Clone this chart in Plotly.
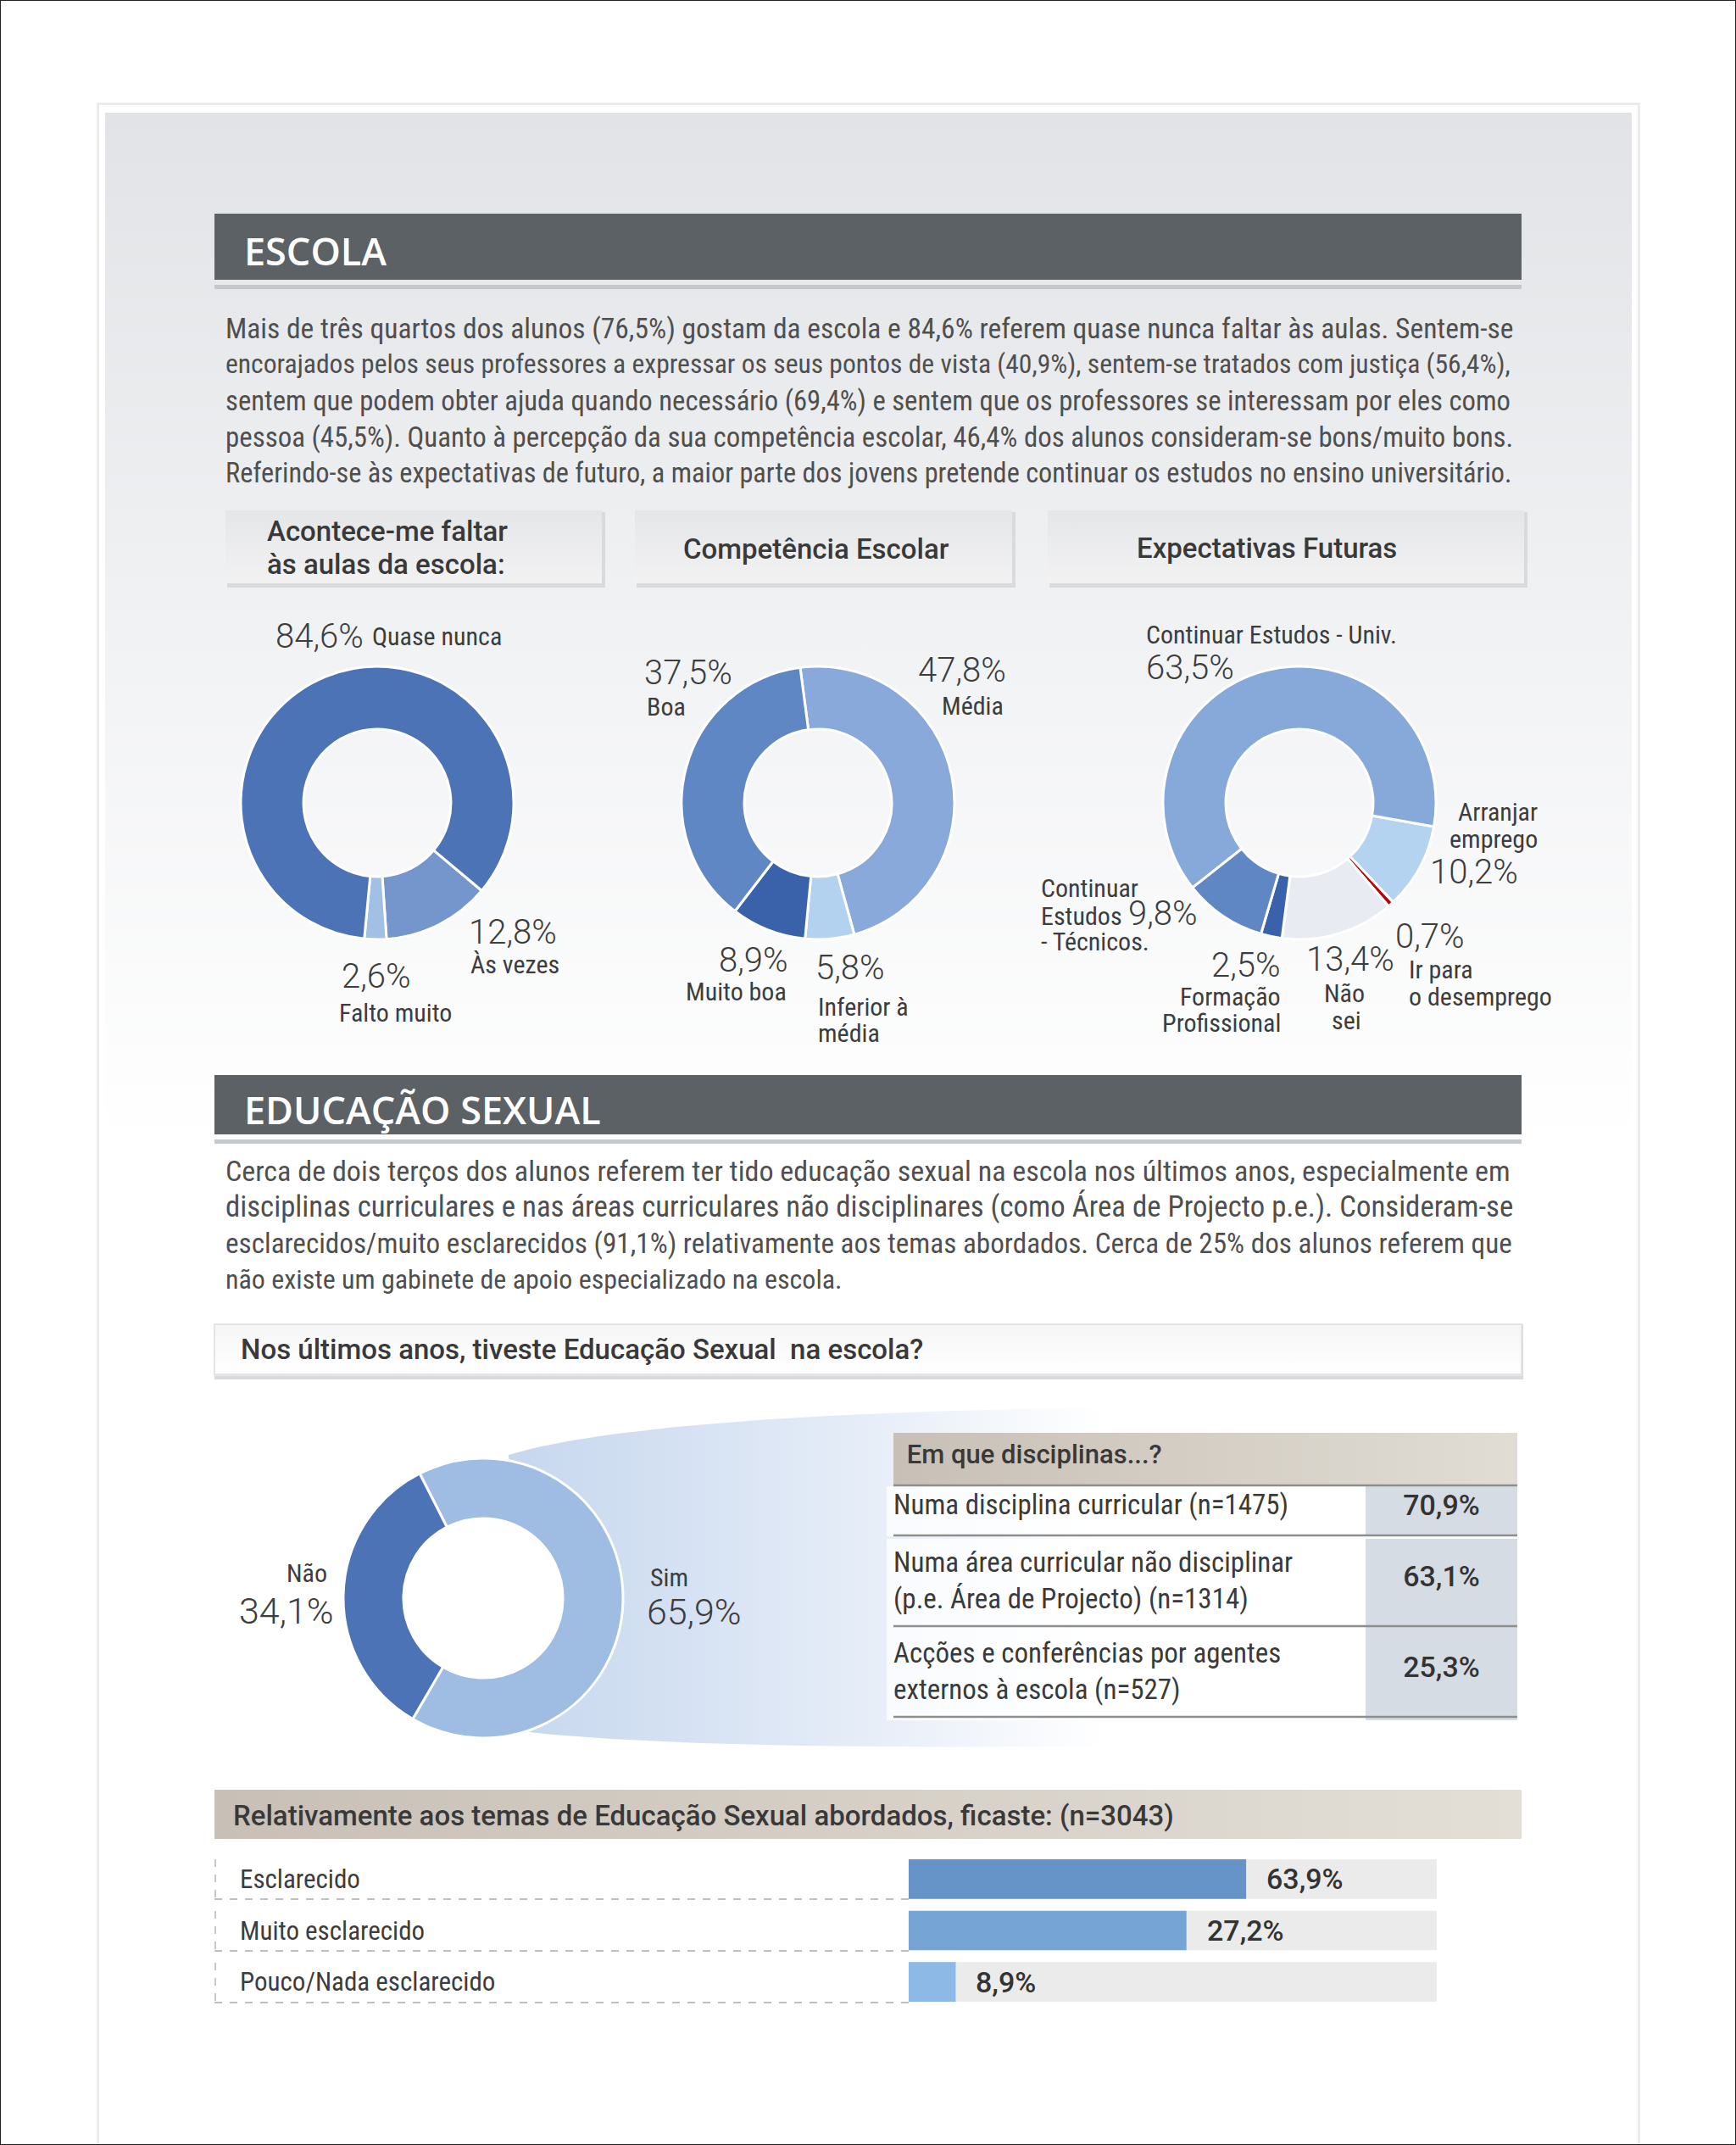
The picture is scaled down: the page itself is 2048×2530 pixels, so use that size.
import numpy as np
import plotly.graph_objects as go

W, H = 2048, 2530

# ---------------- DATA ----------------
faltar_labels = ["Às vezes", "Falto muito", "Quase nunca"]
faltar_values = [12.8, 2.6, 84.6]

comp_labels = ["Média", "Inferior à média", "Muito boa", "Boa"]
comp_values = [47.8, 5.8, 8.9, 37.5]

expect_labels = ["Arranjar emprego", "Ir para o desemprego", "Não sei",
                 "Formação Profissional", "Continuar Estudos - Técnicos.",
                 "Continuar Estudos - Univ."]
expect_values = [10.2, 0.7, 13.4, 2.5, 9.8, 63.5]

edsex_labels = ["Sim", "Não"]
edsex_values = [65.9, 34.1]

disc_labels = ["Numa disciplina curricular (n=1475)",
               "Numa área curricular não disciplinar<br>(p.e. Área de Projecto) (n=1314)",
               "Acções e conferências por agentes<br>externos à escola (n=527)"]
disc_values = [70.9, 63.1, 25.3]

temas_labels = ["Esclarecido", "Muito esclarecido", "Pouco/Nada esclarecido"]
temas_values = [63.9, 27.2, 8.9]          # printed values
temas_bar_length = [63.9, 52.6, 8.9]      # bar lengths as drawn in the reference

escola_text = [
    "Mais de três quartos dos alunos (76,5%) gostam da escola e 84,6% referem quase nunca faltar às aulas. Sentem-se",
    "encorajados pelos seus professores a expressar os seus pontos de vista (40,9%), sentem-se tratados com justiça (56,4%),",
    "sentem que podem obter ajuda quando necessário (69,4%) e sentem que os professores se interessam por eles como",
    "pessoa (45,5%). Quanto à percepção da sua competência escolar, 46,4% dos alunos consideram-se bons/muito bons.",
    "Referindo-se às expectativas de futuro, a maior parte dos jovens pretende continuar os estudos no ensino universitário.",
]
edsex_text = [
    "Cerca de dois terços dos alunos referem ter tido educação sexual na escola nos últimos anos, especialmente em",
    "disciplinas curriculares e nas áreas curriculares não disciplinares (como Área de Projecto p.e.). Consideram-se",
    "esclarecidos/muito esclarecidos (91,1%) relativamente aos temas abordados. Cerca de 25% dos alunos referem que",
    "não existe um gabinete de apoio especializado na escola.",
]
# per-line sizes that imitate the justified block of the original
escola_sizes = [33.5, 31.6, 32.7, 32.9, 32.3]
edsex_sizes = [34.1, 34.8, 33.2, 32.0]


def fmt(v):
    return f"{v:.1f}".replace(".", ",") + "%"


# ---------------- FONTS ----------------
NARROW = "Liberation Sans Narrow, Arial Narrow, Roboto Condensed, DejaVu Sans Condensed, sans-serif"
DARK = "#3d3d3d"
F_NUM = dict(family="Roboto", weight=300, size=40, color=DARK)
F_NUM_BIG = dict(family="Roboto", weight=300, size=43, color=DARK)
F_LBL = dict(family=NARROW, size=30, color=DARK)
F_PARA = dict(family=NARROW, size=33, color="#4f4f4f")
F_HEAD = dict(family="Roboto", weight=500, size=33, color="#393939")
F_VAL = dict(family="Roboto", weight=500, size=34, color="#333333")

fig = go.Figure()
shapes = []
annotations = []


def px(x):
    return x / W


def py(y):
    return 1 - y / H


def ann(x, y, text, font, xanchor="left", yanchor="middle", **kw):
    d = dict(x=x, y=y, xref="x", yref="y", text=text, showarrow=False,
             font=font, xanchor=xanchor, yanchor=yanchor)
    d.update(kw)
    annotations.append(d)


def grad_poly(xs, ys, stops, orient, start, stop):
    fig.add_trace(go.Scatter(
        x=xs, y=ys, mode="lines", line=dict(width=0), fill="toself",
        fillgradient=dict(type=orient, colorscale=stops, start=start, stop=stop),
        hoverinfo="skip", showlegend=False, xaxis="x", yaxis="y"))


def grad_rect(x0, y0, x1, y1, c0, c1, orient="vertical"):
    xs = [x0, x1, x1, x0, x0]
    ys = [y0, y0, y1, y1, y0]
    if orient == "vertical":
        grad_poly(xs, ys, [[0, c0], [1, c1]], orient, y0, y1)
    else:
        grad_poly(xs, ys, [[0, c0], [1, c1]], orient, x0, x1)


def solid(x0, y0, x1, y1, color):
    fig.add_trace(go.Scatter(
        x=[x0, x1, x1, x0, x0], y=[y0, y0, y1, y1, y0], mode="lines", line=dict(width=0),
        fill="toself", fillcolor=color, hoverinfo="skip", showlegend=False, xaxis="x", yaxis="y"))


def hline(x0, x1, y, color, width, dash=None, layer="above"):
    s = dict(type="line", xref="x", yref="y", x0=x0, x1=x1, y0=y, y1=y,
             line=dict(color=color, width=width), layer=layer)
    if dash:
        s["line"]["dash"] = dash
    shapes.append(s)


def vline(x, y0, y1, color, width, dash=None, layer="above"):
    s = dict(type="line", xref="x", yref="y", x0=x, x1=x, y0=y0, y1=y1,
             line=dict(color=color, width=width), layer=layer)
    if dash:
        s["line"]["dash"] = dash
    shapes.append(s)


# ---------------- BACKGROUND ----------------
solid(114, 121, 1935, H, "#ececec")
solid(117, 124, 1932, H, "#ffffff")
grad_poly([124, 1925, 1925, 124, 124], [133, 133, H, H, 133],
          [[0, "#e1e3e6"], [0.5, "#f1f2f4"], [1, "#ffffff"]], "vertical", 133, 1350)

# section bars
for (y0, y1, title, ty) in [(252, 330, "ESCOLA", 295), (1268, 1338, "EDUCAÇÃO SEXUAL", 1308)]:
    solid(253, y0, 1795, y1, "#5c6166")
    solid(253, y1 + 6, 1795, y1 + 11, "#c4c8cc")
    ann(286, ty, title, dict(family="Open Sans", weight=600, size=45, color="#ffffff"))

# paragraphs
for i, (line, s) in enumerate(zip(escola_text, escola_sizes)):
    ann(264, 387 + i * 42.8, line, dict(F_PARA, size=s))
for i, (line, s) in enumerate(zip(edsex_text, edsex_sizes)):
    ann(264, 1381 + i * 42.6, line, dict(F_PARA, size=s))

# box headers
for (x0, x1) in [(266, 710), (749, 1194), (1236, 1798)]:
    solid(x0 + 2, 604, x1 + 4, 693, "#d9dadc")
    grad_rect(x0, 602, x1, 688, "#e5e6e8", "#f2f2f3")
ann(313, 626, "Acontece-me faltar", F_HEAD)
ann(313, 665, "às aulas da escola:", F_HEAD)
ann(963, 647, "Competência Escolar", F_HEAD, xanchor="center")
ann(1494, 646, "Expectativas Futuras", F_HEAD, xanchor="center")

# "Nos últimos anos" box
solid(253, 1562, 1797, 1627, "#d9dadc")
solid(252, 1561, 1796, 1623, "#e4e4e6")
grad_rect(254, 1563, 1794, 1620, "#f6f6f7", "#ffffff")
ann(282, 1591, "Nos últimos anos, tiveste Educação Sexual  na escola?", F_HEAD)

# funnel gradient from the donut towards the table
t = np.linspace(0, 1, 40)


def bez(p0, p1, p2):
    return ((1 - t) ** 2)[:, None] * np.array(p0) + (2 * (1 - t) * t)[:, None] * np.array(p1) + (t ** 2)[:, None] * np.array(p2)


top = bez((600, 1716), (760, 1668), (1300, 1660))
bot = bez((615, 2042), (800, 2064), (1300, 2060))[::-1]
pts = np.vstack([top, bot, top[:1]])
grad_poly(list(pts[:, 0]), list(pts[:, 1]),
          [[0, "#c6d7ee"], [0.55, "#e3ebf7"], [1, "#ffffff"]], "horizontal", 600, 1300)

# table header gradient
grad_rect(1054, 1690, 1790, 1752, "#c8c0b6", "#e1ddd4", orient="horizontal")
# bar-section header gradient
grad_rect(253, 2111, 1795, 2169, "#c8c0b6", "#e3dfd7", orient="horizontal")
ann(273, 2141, "Relativamente aos temas de Educação Sexual abordados, ficaste: (n=3043)", F_HEAD)

# ---------------- DONUTS ----------------
def pie_domain(cx, cy, r):
    return dict(x=[px(cx - r), px(cx + r)], y=[py(cy + r), py(cy - r)])


common = dict(sort=False, direction="clockwise", textinfo="none", hoverinfo="label+percent",
              showlegend=False)

fig.add_trace(go.Pie(labels=faltar_labels, values=faltar_values, hole=0.54, rotation=130,
                     marker=dict(colors=["#7596cd", "#a2bfe5", "#4d73b7"], line=dict(color="white", width=3)),
                     domain=pie_domain(445, 947, 161), **common))
fig.add_trace(go.Pie(labels=comp_labels, values=comp_values, hole=0.54, rotation=-7.5,
                     marker=dict(colors=["#88a9da", "#b3d2f0", "#3a62ab", "#5f87c3"], line=dict(color="white", width=3)),
                     domain=pie_domain(965, 947, 161), **common))
fig.add_trace(go.Pie(labels=expect_labels, values=expect_values, hole=0.54, rotation=100,
                     marker=dict(colors=["#b3d3f0", "#c00000", "#e9ebf3", "#3a62ab", "#5f87c3", "#87a9d9"],
                                 line=dict(color="white", width=3)),
                     domain=pie_domain(1533, 947, 161), **common))
fig.add_trace(go.Pie(labels=edsex_labels, values=edsex_values, hole=0.57, rotation=-27,
                     marker=dict(colors=["#9fbde2", "#4d73b7"], line=dict(color="white", width=3)),
                     domain=pie_domain(570, 1885, 165), **common))
# white centre of the Sim/Não donut (hides the funnel gradient behind the hole)
shapes.append(dict(type="circle", xref="x", yref="y", x0=570 - 93, x1=570 + 93, y0=1885 - 93, y1=1885 + 93,
                   fillcolor="white", line=dict(width=0), layer="above"))

# donut labels
fv = dict(zip(faltar_labels, faltar_values))
ann(323, 750, fmt(fv["Quase nunca"]), F_NUM)
ann(437, 750, "Quase nunca", F_LBL)
ann(551, 1099, fmt(fv["Às vezes"]), F_NUM)
ann(553, 1137, "Às vezes", F_LBL)
ann(401, 1151, fmt(fv["Falto muito"]), F_NUM)
ann(398, 1194, "Falto muito", F_LBL)

cv = dict(zip(comp_labels, comp_values))
ann(758, 793, fmt(cv["Boa"]), F_NUM)
ann(761, 833, "Boa", F_LBL)
ann(1189, 790, fmt(cv["Média"]), F_NUM, xanchor="right")
ann(1186, 832, "Média", F_LBL, xanchor="right")
ann(932, 1132, fmt(cv["Muito boa"]), F_NUM, xanchor="right")
ann(930, 1169, "Muito boa", F_LBL, xanchor="right")
ann(960, 1141, fmt(cv["Inferior à média"]), F_NUM)
ann(963, 1187, "Inferior à", F_LBL)
ann(963, 1218, "média", F_LBL)

ev = dict(zip(expect_labels, expect_values))
ann(1350, 748, "Continuar Estudos - Univ.", F_LBL)
ann(1350, 787, fmt(ev["Continuar Estudos - Univ."]), F_NUM)
ann(1816, 957, "Arranjar", F_LBL, xanchor="right")
ann(1816, 989, "emprego", F_LBL, xanchor="right")
ann(1793, 1028, fmt(ev["Arranjar emprego"]), F_NUM, xanchor="right")
ann(1226, 1047, "Continuar", F_LBL)
ann(1226, 1080, "Estudos", F_LBL)
ann(1226, 1110, "- Técnicos.", F_LBL)
ann(1329, 1077, fmt(ev["Continuar Estudos - Técnicos."]), F_NUM)
ann(1513, 1138, fmt(ev["Formação Profissional"]), F_NUM, xanchor="right")
ann(1513, 1175, "Formação", F_LBL, xanchor="right")
ann(1513, 1206, "Profissional", F_LBL, xanchor="right")
ann(1539, 1131, fmt(ev["Não sei"]), F_NUM)
ann(1586, 1171, "Não", F_LBL, xanchor="center")
ann(1588, 1203, "sei", F_LBL, xanchor="center")
ann(1644, 1104, fmt(ev["Ir para o desemprego"]), F_NUM)
ann(1660, 1143, "Ir para", F_LBL)
ann(1660, 1175, "o desemprego", F_LBL)

sv = dict(zip(edsex_labels, edsex_values))
ann(388, 1855, "Não", F_LBL, xanchor="right")
ann(396, 1900, fmt(sv["Não"]), F_NUM_BIG, xanchor="right")
ann(765, 1860, "Sim", F_LBL)
ann(761, 1901, fmt(sv["Sim"]), F_NUM_BIG)

# ---------------- TABLE ----------------
cell_font = dict(family=[NARROW, "Roboto"], weight=[400, 500], size=[33, 34], color=["#3a3a3a", "#333333"])
cell_fill = dict(color=["rgba(255,255,255,0.72)", "#d6dce3"])
# header + single-line row
fig.add_trace(go.Table(
    domain=dict(x=[px(1046), px(1790)], y=[py(1815), py(1695)]),
    columnwidth=[565, 179],
    header=dict(values=["\u2002Em que disciplinas...?", ""], height=58, align=["left", "center"],
                fill=dict(color="rgba(0,0,0,0)"), line=dict(width=0),
                font=dict(family="Roboto", weight=500, size=31, color="#393939")),
    cells=dict(values=[disc_labels[:1], [fmt(disc_values[0])]], height=59, align=["left", "center"],
               fill=cell_fill, line=dict(width=0), font=cell_font),
))
# two-line rows (labels + shaded value column)
fig.add_trace(go.Table(
    domain=dict(x=[px(1046), px(1790)], y=[py(2035), py(1799)]),
    columnwidth=[565, 179],
    header=dict(values=[], line=dict(width=0), fill=dict(color="rgba(0,0,0,0)")),
    cells=dict(values=[disc_labels[1:], ["", ""]], height=107, align=["left", "center"],
               fill=cell_fill, line=dict(width=0), font=cell_font),
))
# values of the two-line rows, vertically centred in their rows
fig.add_trace(go.Table(
    domain=dict(x=[px(1611), px(1790)], y=[py(2060), py(1821)]),
    header=dict(values=[], line=dict(width=0), fill=dict(color="rgba(0,0,0,0)")),
    cells=dict(values=[[fmt(v) for v in disc_values[1:]]], height=107, align="center",
               fill=dict(color="rgba(0,0,0,0)"), line=dict(width=0),
               font=dict(family="Roboto", weight=500, size=34, color="#333333")),
))
for y in [1752, 1811, 1918, 2025]:
    hline(1054, 1790, y, "#8e8e8e", 2.5)

# ---------------- BARS ----------------
fig.add_trace(go.Bar(y=temas_labels, x=[100] * len(temas_labels), orientation="h",
                     marker=dict(color="#ebebeb", line=dict(width=0)), xaxis="x2", yaxis="y2",
                     hoverinfo="skip", showlegend=False))
fig.add_trace(go.Bar(y=temas_labels, x=temas_bar_length, orientation="h",
                     marker=dict(color=["#6694c9", "#76a5d5", "#8cb9e6"], line=dict(width=0)),
                     xaxis="x2", yaxis="y2", customdata=temas_values,
                     hovertemplate="%{y}: %{customdata}%<extra></extra>", showlegend=False))
for lab, L, v in zip(temas_labels, temas_bar_length, temas_values):
    annotations.append(dict(x=L, y=lab, xref="x2", yref="y2", text=fmt(v), showarrow=False,
                            xanchor="left", yanchor="middle", xshift=22, font=F_VAL))
    annotations.append(dict(x=281, y=lab, xref="x", yref="y2", text=lab, showarrow=False,
                            xanchor="left", yanchor="middle", font=dict(F_LBL, size=31)))
for yb, yt in [(2240, 2193), (2301, 2254), (2362, 2315)]:
    hline(253, 1072, yb, "#a9a9b0", 1.5, dash="dash")
    vline(254, yt, yb, "#b5b5bb", 1.5, dash="dash")

# outer black border
shapes.append(dict(type="rect", xref="paper", yref="paper", x0=0, y0=0, x1=1, y1=1,
                   line=dict(color="#222222", width=2), layer="above"))

fig.update_layout(
    width=W, height=H, margin=dict(l=0, r=0, t=0, b=0),
    paper_bgcolor="white", plot_bgcolor="rgba(0,0,0,0)",
    xaxis=dict(range=[0, W], domain=[0, 1], visible=False, fixedrange=True),
    yaxis=dict(range=[H, 0], domain=[0, 1], visible=False, fixedrange=True),
    xaxis2=dict(range=[0, 100], domain=[px(1072), px(1695)], visible=False, anchor="y2", fixedrange=True),
    yaxis2=dict(domain=[py(2368), py(2186)], autorange="reversed", visible=False, anchor="x2",
                fixedrange=True, type="category"),
    barmode="overlay", bargap=0.23,
    shapes=shapes, annotations=annotations, showlegend=False,
)

fig.write_html("out.html", config={"displayModeBar": False},
               post_script="document.body.style.margin='0';document.body.style.overflow='hidden';")
